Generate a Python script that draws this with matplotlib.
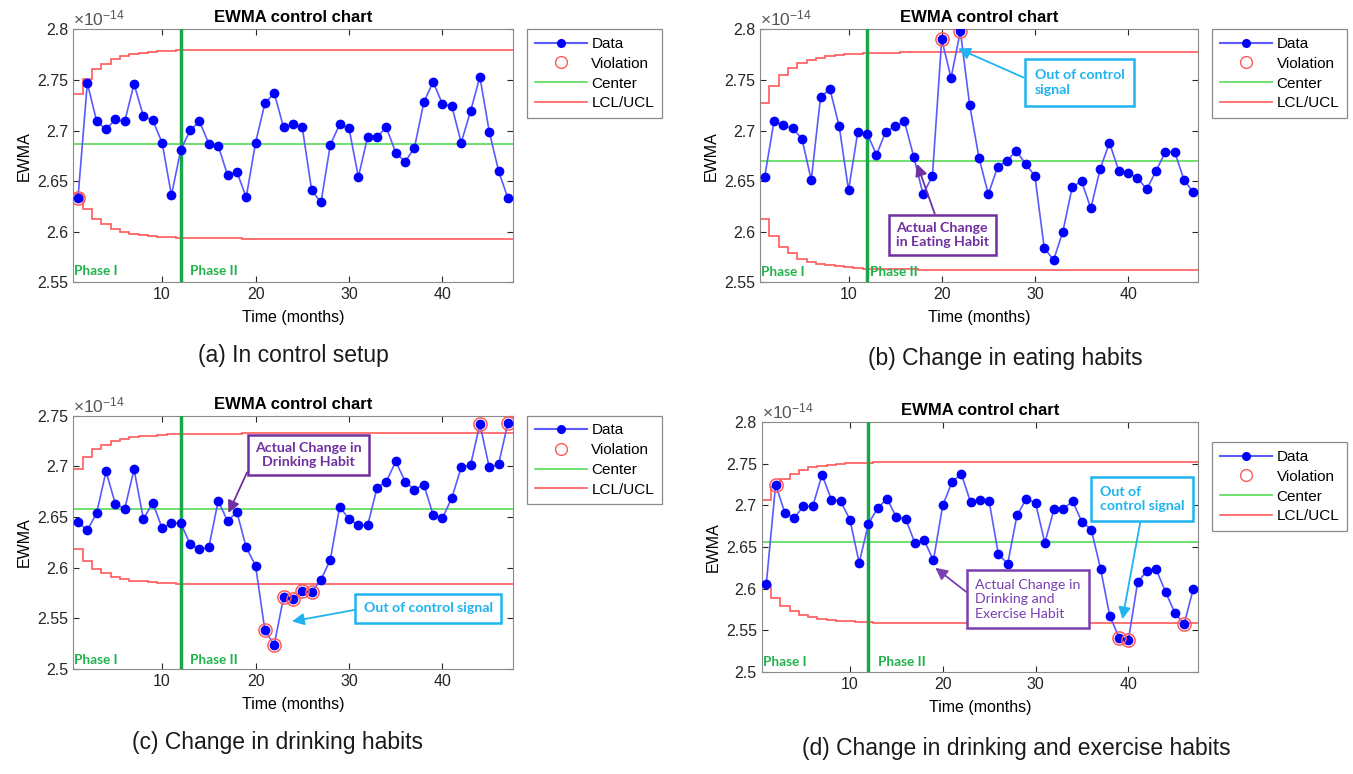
import numpy as np
import matplotlib.pyplot as plt
from matplotlib.lines import Line2D

plt.rcParams['font.family'] = ['Liberation Sans', 'DejaVu Sans']
plt.rcParams['mathtext.fontset'] = 'custom'
plt.rcParams['mathtext.rm'] = 'Liberation Sans'
plt.rcParams['mathtext.it'] = 'Liberation Sans'

months = np.arange(1, 48)

# EWMA values (x 1e-14)
ewma_a = [2.633, 2.747, 2.709, 2.701, 2.711, 2.709, 2.746, 2.714, 2.710, 2.688,
          2.636, 2.681, 2.700, 2.709, 2.687, 2.685, 2.656, 2.659, 2.634, 2.688,
          2.727, 2.737, 2.703, 2.706, 2.703, 2.641, 2.629, 2.686, 2.706, 2.702,
          2.654, 2.694, 2.694, 2.703, 2.678, 2.669, 2.683, 2.728, 2.748, 2.726,
          2.724, 2.688, 2.719, 2.753, 2.699, 2.660, 2.633]
ewma_b = [2.654, 2.709, 2.705, 2.702, 2.692, 2.651, 2.733, 2.741, 2.704, 2.641,
          2.699, 2.697, 2.676, 2.699, 2.704, 2.709, 2.674, 2.637, 2.655, 2.790,
          2.752, 2.798, 2.725, 2.673, 2.637, 2.664, 2.670, 2.680, 2.667, 2.655,
          2.584, 2.572, 2.600, 2.644, 2.650, 2.623, 2.662, 2.688, 2.660, 2.658,
          2.653, 2.642, 2.660, 2.679, 2.679, 2.651, 2.639]
ewma_c = [2.645, 2.637, 2.654, 2.695, 2.663, 2.658, 2.697, 2.648, 2.664, 2.639,
          2.644, 2.644, 2.623, 2.618, 2.620, 2.666, 2.646, 2.655, 2.620, 2.602,
          2.538, 2.524, 2.571, 2.569, 2.577, 2.576, 2.588, 2.608, 2.660, 2.648,
          2.642, 2.642, 2.679, 2.685, 2.705, 2.685, 2.677, 2.682, 2.652, 2.649,
          2.669, 2.699, 2.701, 2.742, 2.699, 2.702, 2.743]
ewma_d = [2.606, 2.725, 2.691, 2.685, 2.699, 2.699, 2.737, 2.707, 2.705, 2.683,
          2.631, 2.678, 2.697, 2.708, 2.686, 2.684, 2.655, 2.658, 2.634, 2.700,
          2.728, 2.738, 2.704, 2.707, 2.705, 2.641, 2.630, 2.688, 2.708, 2.703,
          2.655, 2.696, 2.696, 2.705, 2.680, 2.671, 2.624, 2.567, 2.541, 2.538,
          2.608, 2.621, 2.623, 2.596, 2.571, 2.557, 2.600]

viol_a = [1]
viol_b = [20, 22]
viol_c = [21, 22, 23, 24, 25, 26, 44, 47]
viol_d = [2, 39, 40, 46]

centers = [2.6866, 2.6700, 2.6580, 2.6555]
half_widths = [0.0934, 0.1075, 0.0745, 0.0970]
# relative width of the stepped control limits
limit_frac = [0.53, 0.69, 0.79, 0.85, 0.90, 0.93, 0.95, 0.96, 0.97, 0.98,
              0.986, 0.99, 0.993, 0.995, 0.996, 0.997, 0.998, 0.999] + [1.0] * 29

ylims = [(2.55, 2.8), (2.55, 2.8), (2.5, 2.75), (2.5, 2.8)]
captions = ['(a) In control setup', '(b) Change in eating habits',
            '(c) Change in drinking habits', '(d) Change in drinking and exercise habits']

W, H = 1353, 774
fig = plt.figure(figsize=(W / 100, H / 100), dpi=100)

# axes boxes in pixels: left, top, right, bottom
boxes = [(73.3, 29.3, 512.6, 282.3), (760, 29.3, 1198, 282.3),
         (73.3, 415.7, 512.6, 669), (761.7, 422.3, 1198, 671.7)]
axes = []
for l, t, r, b in boxes:
    axes.append(fig.add_axes([l / W, 1 - b / H, (r - l) / W, (b - t) / H]))

blue_line = '#5a5aff'
red = '#ff5a5a'
green = '#55dd55'
phase_green = '#1aa64a'
cyan = '#1fb4ef'
purple = '#7030a0'

edges = np.arange(0.5, 48.5, 1.0)
legend_y = [1.0, 1.0, 1.0, 0.92]
phase_y = [0.045, 0.04, 0.035, 0.039]
phase2_x = [13.0, 12.3, 13.0, 13.0]

for i, (ax, data, viol) in enumerate(zip(axes, [ewma_a, ewma_b, ewma_c, ewma_d],
                                          [viol_a, viol_b, viol_c, viol_d])):
    c, h = centers[i], half_widths[i]
    frac = np.array(limit_frac)
    ax.stairs(c + h * frac, edges, color=red, lw=1.2, baseline=None)
    ax.stairs(c - h * frac, edges, color=red, lw=1.2, baseline=None)
    ax.axhline(c, color=green, lw=1.2)
    ax.axvline(12, color=phase_green, lw=2.5, zorder=4)
    ax.plot(months, data, '-', color=blue_line, lw=1.2, zorder=5)
    ax.plot(months, data, 'o', color='blue', ms=6, zorder=6)
    vy = [data[m - 1] for m in viol]
    ax.plot(viol, vy, 'o', mfc='none', mec=red, ms=9.5, mew=1.1, zorder=7)

    ax.set_xlim(0.5, 47.5)
    ax.set_ylim(*ylims[i])
    ax.set_xticks([10, 20, 30, 40])
    ax.set_yticks(np.arange(ylims[i][0], ylims[i][1] + 0.001, 0.05))
    ax.yaxis.set_major_formatter(plt.FuncFormatter(lambda v, p: '%g' % round(v, 2)))
    ax.tick_params(direction='in', top=True, right=True, labelsize=11.5,
                   colors='#262626', length=4)
    for s in ax.spines.values():
        s.set_color('#8a8a8a')
    ax.set_title('EWMA control chart', fontsize=12, fontweight='bold', pad=5)
    ax.set_xlabel('Time (months)', fontsize=11.5, labelpad=6)
    ax.set_ylabel('EWMA', fontsize=11.5)
    ax.text(0, 1.003, r'$\times10^{-14}$', transform=ax.transAxes, fontsize=12.5,
            ha='left', va='bottom', color='#555555')
    ypos = ylims[i][0] + phase_y[i] * (ylims[i][1] - ylims[i][0])
    ax.text(0.6, ypos, 'Phase I', color='#22b24c', fontsize=9.8, fontweight='bold',
            family='Lato', va='center', ha='left')
    ax.text(phase2_x[i], ypos, 'Phase II', color='#22b24c', fontsize=9.8,
            fontweight='bold', family='Lato', va='center', ha='left')

    handles = [Line2D([], [], color=blue_line, marker='o', mfc='blue', mec='blue', ms=5.5, label='Data'),
               Line2D([], [], ls='none', marker='o', mfc='none', mec=red, ms=8.5, label='Violation'),
               Line2D([], [], color=green, lw=1.2, label='Center'),
               Line2D([], [], color=red, lw=1.2, label='LCL/UCL')]
    leg = ax.legend(handles=handles, loc='upper left', bbox_to_anchor=(1.033, legend_y[i]),
                    borderaxespad=0, fancybox=False, edgecolor='#8a8a8a', framealpha=1,
                    handlelength=3.4, fontsize=11, labelspacing=0.38, borderpad=0.5,
                    handletextpad=0.3)
    leg.get_frame().set_linewidth(0.9)


def note(ax, text, xy, xytext, color, rel, weight='bold', ha='center', pad=0.5):
    ax.annotate(text, xy=xy, xytext=xytext, textcoords='axes fraction',
                ha=ha, va='center', color=color, fontsize=10.2, family='Lato',
                fontweight=weight, linespacing=1.25, zorder=10,
                bbox=dict(boxstyle='square,pad=%s' % pad, fc='white', ec=color, lw=1.8),
                arrowprops=dict(arrowstyle='-|>,head_length=0.7,head_width=0.35',
                                color=color, lw=1.3, relpos=rel, shrinkA=0, shrinkB=0))


note(axes[1], 'Out of control\nsignal', (21.75, 2.781), (0.627, 0.79), cyan, (0, 0.5), ha='left', pad=0.7)
note(axes[1], 'Actual Change\nin Eating Habit', (17.35, 2.667), (0.416, 0.187), purple, (0.45, 1))
note(axes[2], 'Actual Change in\nDrinking Habit', (17.1, 2.654), (0.535, 0.845), purple, (0, 0.5))
note(axes[2], 'Out of control signal', (23.9, 2.547), (0.808, 0.24), cyan, (0, 0.5), pad=0.6)
note(axes[3], 'Out of\ncontrol signal', (39.35, 2.563), (0.775, 0.692), cyan, (0.5, 0), ha='left', pad=0.6)
note(axes[3], 'Actual Change in\nDrinking and\nExercise Habit', (19.2, 2.625), (0.49, 0.291),
     '#7a3fb0', (0, 0.5), weight='normal', ha='left', pad=0.6)

fig.text(293 / W, 1 - 355 / H, captions[0], ha='center', va='center', fontsize=16.5, color='#1a1a1a')
fig.text(1005 / W, 1 - 358 / H, captions[1], ha='center', va='center', fontsize=16.5, color='#1a1a1a')
fig.text(278 / W, 1 - 742 / H, captions[2], ha='center', va='center', fontsize=16.5, color='#1a1a1a')
fig.text(1016 / W, 1 - 748 / H, captions[3], ha='center', va='center', fontsize=16.5, color='#1a1a1a')

fig.savefig('out.png', dpi=100)
